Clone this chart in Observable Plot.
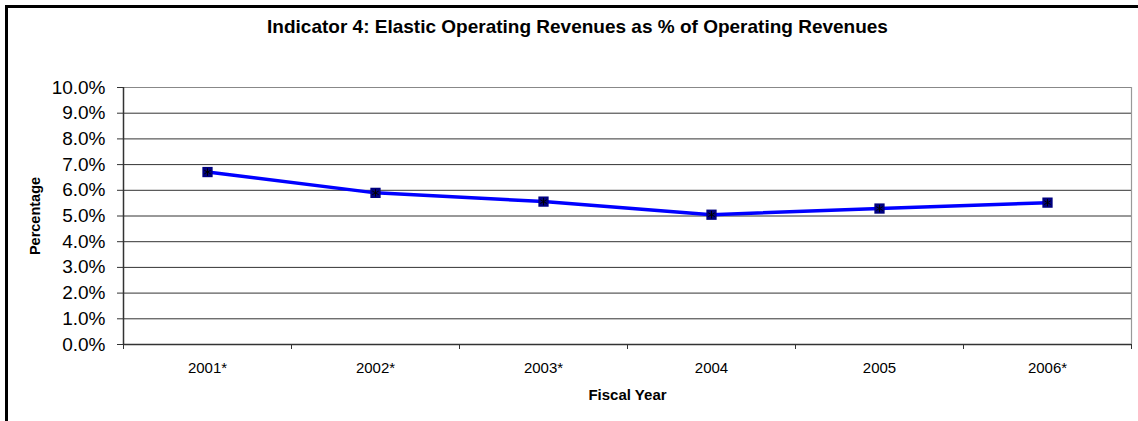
<!DOCTYPE html>
<html>
<head>
<meta charset="utf-8">
<script src="https://cdn.jsdelivr.net/npm/d3@7"></script>
<script src="https://cdn.jsdelivr.net/npm/@observablehq/plot@0.6"></script>
<style>
  html, body { margin: 0; padding: 0; background: #fff; overflow: hidden; }
  #wrap { position: relative; width: 1138px; height: 421px; }
  #frame { position: absolute; left: 5px; top: 5px; width: 1200px; height: 500px;
           border-left: 3px solid #000; border-top: 3px solid #000; pointer-events: none; }
</style>
</head>
<body>
<div id="wrap"><div id="chart"></div><div id="frame"></div></div>
<script>
const title = "Indicator 4: Elastic Operating Revenues as % of Operating Revenues";
const xLabel = "Fiscal Year";
const yLabel = "Percentage";
const years = ["2001*", "2002*", "2003*", "2004", "2005", "2006*"];
const values = [6.71, 5.90, 5.56, 5.05, 5.29, 5.52];
const yTicks = [0, 1, 2, 3, 4, 5, 6, 7, 8, 9, 10];

const data = years.map((year, i) => ({year, pos: i + 0.5, value: values[i]}));
const boundaries = d3.range(years.length + 1);
const centers = years.map((_, i) => i + 0.5);
const font = "Liberation Sans, Arial, sans-serif";

const chart = Plot.plot({
  width: 1138,
  height: 421,
  marginLeft: 123,
  marginRight: 7,
  marginTop: 87,
  marginBottom: 77,
  style: {fontFamily: font, background: "#fff", color: "#000"},
  x: {type: "linear", domain: [0, years.length]},
  y: {domain: [0, 10]},
  marks: [
    Plot.gridY(yTicks, {stroke: "#333", strokeOpacity: 1, strokeWidth: 1}),
    Plot.ruleY([10], {stroke: "#888", strokeWidth: 1.2}),
    Plot.ruleX([years.length], {stroke: "#999", strokeWidth: 1.2}),
    Plot.axisY(yTicks, {tickSize: 6, tickPadding: 12, fontSize: 19, stroke: "#333",
      tickFormat: d => d.toFixed(1) + "%", label: null}),
    Plot.axisX(boundaries, {tickSize: 5, tickFormat: () => "", stroke: "#333", label: null}),
    Plot.axisX(centers, {tickSize: 0, tickPadding: 18, fontSize: 15,
      tickFormat: d => years[Math.round(d - 0.5)], label: null}),
    Plot.ruleX([0], {stroke: "#333", strokeWidth: 1.5}),
    Plot.ruleY([0], {stroke: "#333", strokeWidth: 1.5}),
    Plot.line(data, {x: "pos", y: "value", stroke: "#0000ff", strokeWidth: 3.5}),
    Plot.dot(data, {x: "pos", y: "value", symbol: "square", r: 5.8, fill: "#000080", stroke: "none"}),
    Plot.dot(data, {x: "pos", y: "value", symbol: "asterisk", r: 3.5, stroke: "#000", strokeWidth: 1}),
    Plot.text([title], {frameAnchor: "top", dx: -50, dy: -61, fontSize: 19, fontWeight: "bold",
      lineAnchor: "middle", fill: "#000"}),
    Plot.text([yLabel], {frameAnchor: "left", dx: -88, rotate: -90, fontSize: 14.5, fontWeight: "bold",
      textAnchor: "middle", lineAnchor: "middle", fill: "#000"}),
    Plot.text([xLabel], {frameAnchor: "bottom", dy: 51, fontSize: 15, fontWeight: "bold",
      lineAnchor: "middle", fill: "#000"})
  ]
});
document.getElementById("chart").appendChild(chart);
</script>
</body>
</html>
